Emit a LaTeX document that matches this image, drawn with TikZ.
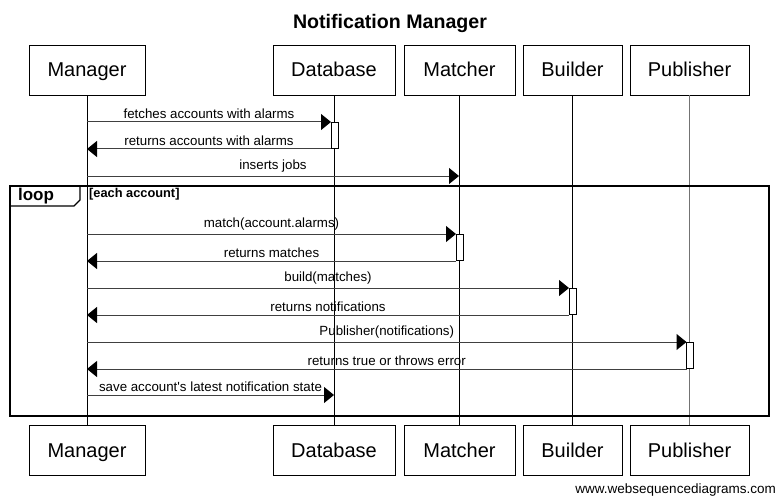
\documentclass[tikz,border=0pt]{standalone}
\usepackage{fontspec}
\setmainfont{Liberation Sans}[Ligatures=TeXOff]
\usetikzlibrary{arrows.meta}

\begin{document}
\begin{tikzpicture}[x=1pt, y=-1pt,
  actor/.style={draw, line width=0.8pt, minimum height=50pt, inner sep=0pt, text height=14.5pt, text depth=0.5pt, font=\fontsize{20}{24}\selectfont},
  life/.style={line width=0.8pt},
  msg/.style={draw=black!75, line width=1pt, -{Triangle[length=10pt,width=16pt,color=black]}},
  lbl/.style={font=\fontsize{13.3}{15}\selectfont, inner sep=0pt, above=3pt, text=black},
  act/.style={draw, line width=0.7pt, fill=white, minimum width=7pt, minimum height=26pt, inner sep=0pt}]

\useasboundingbox (0,0) rectangle (779,500);

% Title
\node[font=\bfseries\fontsize{19.6}{22}\selectfont] (title) at (390,23) {Notification Manager};

% Participants (top)
\node[actor, minimum width=116pt] (manT) at (87,70) {Manager};
\node[actor, minimum width=122pt] (dbT) at (334,70) {Database};
\node[actor, minimum width=111pt] (matT) at (459.5,70) {Matcher};
\node[actor, minimum width=99pt] (bldT) at (572.5,70) {Builder};
\node[actor, minimum width=119pt] (pubT) at (689.5,70) {Publisher};

% Participants (bottom)
\node[actor, minimum width=116pt] (manB) at (87,450.5) {Manager};
\node[actor, minimum width=122pt] (dbB) at (334,450.5) {Database};
\node[actor, minimum width=111pt] (matB) at (459.5,450.5) {Matcher};
\node[actor, minimum width=99pt] (bldB) at (572.5,450.5) {Builder};
\node[actor, minimum width=119pt] (pubB) at (689.5,450.5) {Publisher};

% Lifelines
\draw[life] (manT) -- (manB);
\draw[life] (dbT) -- (dbB);
\draw[life] (matT) -- (matB);
\draw[life] (bldT) -- (bldB);
\draw[life, black!55] (pubT) -- (pubB);

% Loop frame
\draw[line width=1.8pt] (10,186) rectangle (769,416);
\draw[line width=1.3pt] (10,206) -- (74,206) -- (80,200) -- (80,186);
\node[font=\bfseries\fontsize{17}{19}\selectfont] (loopTag) at (36,196) {loop};
\node[font=\bfseries\fontsize{12.8}{14}\selectfont, anchor=west, inner sep=0pt] (guard) at (89,194) {[each account]};

% Activation bars
\node[act] (dbAct) at (334.5,135) {};
\node[act] (matAct) at (459.5,247) {};
\node[act] (bldAct) at (572.5,301) {};
\node[act] (pubAct) at (690,355) {};

% Message end points
\coordinate (fetchS) at (87,122);
\coordinate (fetchE) at (331,122);
\coordinate (retAccS) at (331,149);
\coordinate (retAccE) at (87,149);
\coordinate (jobsS) at (87,176);
\coordinate (jobsE) at (459,176);
\coordinate (matchS) at (87,234);
\coordinate (matchE) at (456,234);
\coordinate (retMatS) at (456,261);
\coordinate (retMatE) at (87,261);
\coordinate (buildS) at (87,288);
\coordinate (buildE) at (569,288);
\coordinate (retNotS) at (569,315);
\coordinate (retNotE) at (87,315);
\coordinate (pubS) at (87,342);
\coordinate (pubE) at (686.5,342);
\coordinate (retPubS) at (686.5,369);
\coordinate (retPubE) at (87,369);
\coordinate (saveS) at (87,395);
\coordinate (saveE) at (334,395);

% Messages
\draw[msg] (fetchS) -- node[lbl] {fetches accounts with alarms} (fetchE);
\draw[msg] (retAccS) -- node[lbl] {returns accounts with alarms} (retAccE);
\draw[msg] (jobsS) -- node[lbl] {inserts jobs} (jobsE);
\draw[msg] (matchS) -- node[lbl] {match(account.alarms)} (matchE);
\draw[msg] (retMatS) -- node[lbl] {returns matches} (retMatE);
\draw[msg] (buildS) -- node[lbl] {build(matches)} (buildE);
\draw[msg] (retNotS) -- node[lbl] {returns notifications} (retNotE);
\draw[msg] (pubS) -- node[lbl] {Publisher(notifications)} (pubE);
\draw[msg] (retPubS) -- node[lbl] {returns true or throws error} (retPubE);
\draw[msg] (saveS) -- node[lbl] {save account's latest notification state} (saveE);

% Watermark
\node[font=\fontsize{13.5}{16}\selectfont, anchor=east, inner sep=0pt] (mark) at (776,490) {www.websequencediagrams.com};

\end{tikzpicture}
\end{document}
